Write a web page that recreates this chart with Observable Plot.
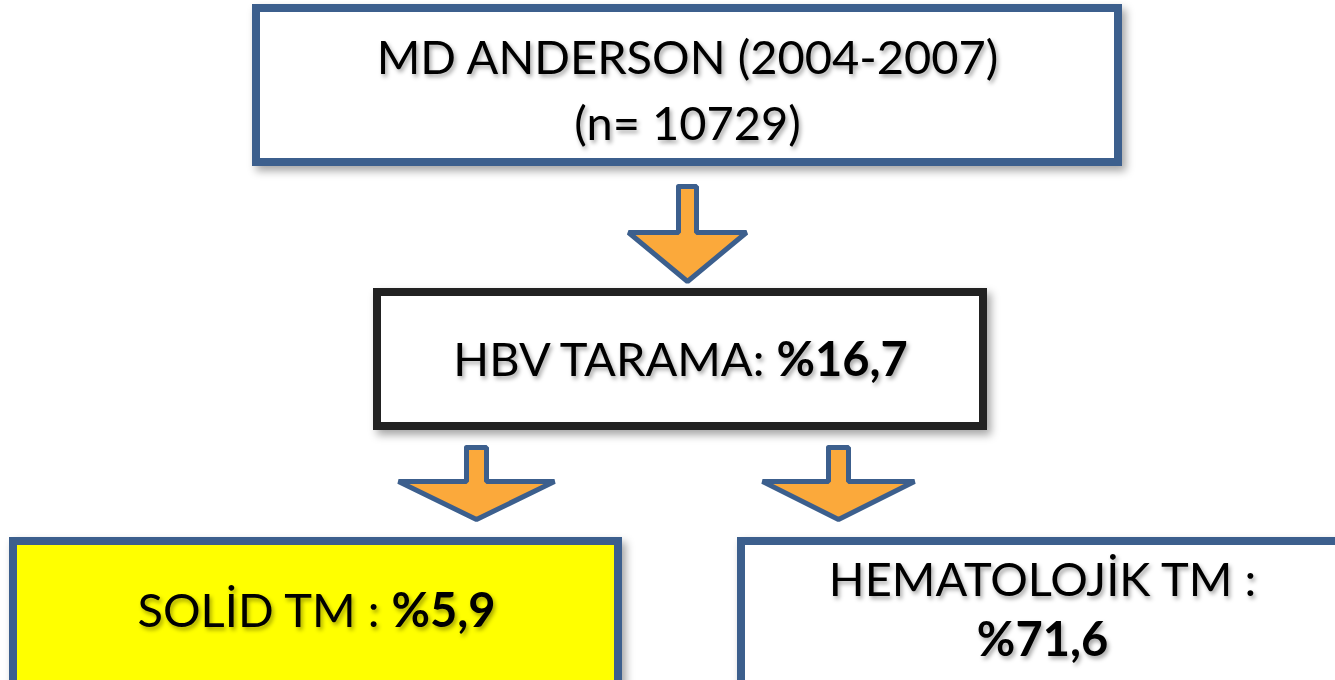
<!DOCTYPE html>
<html>
<head>
<meta charset="utf-8">
<script src="https://cdn.jsdelivr.net/npm/d3@7"></script>
<script src="https://cdn.jsdelivr.net/npm/@observablehq/plot@0.6"></script>
<style>
  html, body { margin: 0; padding: 0; background: #ffffff; }
  #chart svg { display: block; }
  .lbl text { filter: drop-shadow(2px 3px 2px rgba(0,0,0,0.35)); }
  .box rect { filter: drop-shadow(4px 5px 4px rgba(0,0,0,0.35)); }
</style>
</head>
<body>
<div id="chart"></div>
<script>
// ---- content ----
const boxIds    = ["top", "mid", "solid", "hema"];
const boxFills  = ["#ffffff", "#ffffff", "#ffff00", "#ffffff"];
const boxStroke = ["#3c5f8d", "#222222", "#3c5f8d", "#3c5f8d"];
// box outline (centre of border) in pixel layout units
const boxX1 = [256, 377, 13, 741];
const boxX2 = [1118, 983, 618, 1345];
const boxY1 = [8, 292, 541, 541];
const boxY2 = [162, 426, 700, 700];

// text lines: plain part + bold part
const linePlain = ["MD ANDERSON (2004-2007)", "(n= 10729)", "HBV TARAMA: ", "SOLİD TM : ", "HEMATOLOJİK TM :", ""];
const lineBold  = ["", "", "%16,7", "%5,9", "", "%71,6"];
const lineX     = [687, 687, 680, 316, 1042, 1042];
const lineY     = [58, 124, 360, 611, 580, 640];

// arrows: centre x, top of shaft, head base y, tip y
const arrowX     = [687, 476, 838];
const arrowTop   = [186, 447, 447];
const arrowHead  = [232, 481, 481];
const arrowTip   = [281, 519, 519];
const arrowShaft = [9, 10, 10];
const arrowWing  = [59, 78, 76];

// ---- build tables ----
const boxes = boxIds.map((id, i) => ({id, x1: boxX1[i], x2: boxX2[i], y1: boxY1[i], y2: boxY2[i], fill: boxFills[i], stroke: boxStroke[i]}));
const lines = linePlain.map((p, i) => ({plain: p, bold: lineBold[i], text: p + lineBold[i], x: lineX[i], y: lineY[i]}));
const arrowPts = [];
arrowX.forEach((cx, i) => {
  const s = arrowShaft[i], w = arrowWing[i];
  const pts = [
    [cx - s, arrowTop[i]], [cx + s, arrowTop[i]], [cx + s, arrowHead[i]],
    [cx + w, arrowHead[i]], [cx, arrowTip[i]], [cx - w, arrowHead[i]],
    [cx - s, arrowHead[i]], [cx - s, arrowTop[i]]
  ];
  pts.forEach(([x, y]) => arrowPts.push({arrow: i, x, y}));
});

const W = 1335, H = 680;
const chart = Plot.plot({
  width: W, height: H,
  margin: 0,
  x: {domain: [0, W], range: [0, W], axis: null},
  y: {domain: [0, H], range: [0, H], axis: null},
  style: {background: "#ffffff", fontFamily: "Lato, 'Open Sans', sans-serif"},
  marks: [
    Plot.rect(boxes, {x1: "x1", x2: "x2", y1: "y1", y2: "y2", fill: "fill", stroke: "stroke", strokeWidth: 8, className: "box"}),
    Plot.line(arrowPts, {x: "x", y: "y", z: "arrow", fill: "#fba93b", stroke: "#3c5f8d", strokeWidth: 5, strokeLinejoin: "miter", curve: "linear"}),
    Plot.text(lines, {x: "x", y: "y", text: "text", fill: "#000000", fontSize: 47, className: "lbl", textAnchor: "middle"})
  ]
});
document.getElementById("chart").appendChild(chart);

// split each label into regular + bold spans
d3.select(chart).selectAll(".lbl text").each(function(_, i) {
  const d = lines[i];
  if (!d || !d.bold) return;
  const t = d3.select(this);
  t.text(null);
  if (d.plain) t.append("tspan").text(d.plain);
  t.append("tspan").attr("font-weight", "bold").text(d.bold);
});
</script>
</body>
</html>
